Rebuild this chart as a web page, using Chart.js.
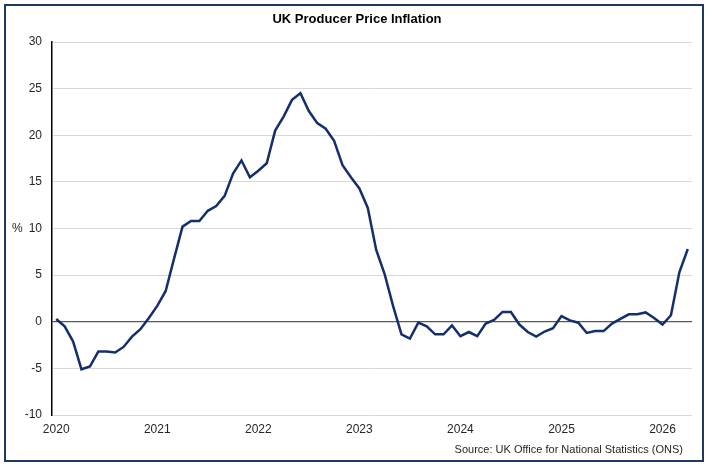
<!DOCTYPE html>
<html>
<head>
<meta charset="utf-8">
<script src="https://cdn.jsdelivr.net/npm/chart.js@4"></script>
<style>
  html, body { margin: 0; padding: 0; background: #fff; }
  #wrap { position: relative; width: 712px; height: 468px; }
</style>
</head>
<body>
<div id="wrap"><canvas id="ppi" width="712" height="468"></canvas></div>
<script>
// Années affichées sur l'axe des x (une étiquette par janvier)
const yearTicks = ['2020', '2021', '2022', '2023', '2024', '2025', '2026'];
const monthNames = ['Jan', 'Feb', 'Mar', 'Apr', 'May', 'Jun', 'Jul', 'Aug', 'Sep', 'Oct', 'Nov', 'Dec'];

// Inflation des prix à la production (%), mensuelle, janv. 2020 -> avr. 2026
const ppiValues = [
  0.3, -0.5, -2.1, -5.1, -4.8, -3.2, -3.2, -3.3, -2.7, -1.6, -0.8, 0.4,
  1.7, 3.3, 6.8, 10.2, 10.8, 10.8, 11.9, 12.4, 13.5, 15.9, 17.3, 15.5,
  16.2, 17.0, 20.5, 22.0, 23.8, 24.5, 22.6, 21.3, 20.7, 19.4, 16.8, 15.5,
  14.3, 12.2, 7.7, 5.1, 1.7, -1.35, -1.8, -0.1, -0.5, -1.35, -1.35, -0.4,
  -1.55, -1.1, -1.55, -0.2, 0.2, 1.05, 1.05, -0.3, -1.1, -1.6, -1.05, -0.7,
  0.6, 0.15, -0.1, -1.2, -1.0, -1.0, -0.2, 0.3, 0.8, 0.8, 1.0, 0.4,
  -0.3, 0.7, 5.3, 7.8
];

// Catégories : un libellé par mois
const months = ppiValues.map((v, i) => monthNames[i % 12] + ' ' + yearTicks[Math.floor(i / 12)]);

const chartTitle = 'UK Producer Price Inflation';
const sourceText = 'Source: UK Office for National Statistics (ONS)';
const yUnit = '%';

// Décor : cadre, titre, unité et source
const decorPlugin = {
  id: 'decor',
  afterDraw(chart) {
    const ctx = chart.ctx;
    ctx.save();
    ctx.strokeStyle = '#1f3864';
    ctx.lineWidth = 2;
    ctx.strokeRect(5, 5, 698, 456);

    ctx.fillStyle = '#000';
    ctx.font = 'bold 13px "Liberation Sans", Arial, sans-serif';
    ctx.textAlign = 'center';
    ctx.textBaseline = 'middle';
    ctx.fillText(chartTitle, 357, 19);

    ctx.font = '12px "Liberation Sans", Arial, sans-serif';
    ctx.fillStyle = '#262626';
    ctx.textAlign = 'left';
    ctx.fillText(yUnit, 12, chart.scales.y.getPixelForValue(10));

    ctx.font = '11px "Liberation Sans", Arial, sans-serif';
    ctx.textAlign = 'right';
    ctx.fillText(sourceText, 683, 450);
    ctx.restore();
  }
};

new Chart(document.getElementById('ppi'), {
  type: 'line',
  data: {
    labels: months,
    datasets: [{
      label: 'PPI',
      data: ppiValues,
      borderColor: '#142f6b',
      borderWidth: 2.5,
      pointRadius: 0,
      tension: 0,
      fill: false
    }]
  },
  options: {
    responsive: false,
    animation: false,
    layout: { padding: { left: 0, right: 20, top: 42, bottom: 23 } },
    plugins: {
      legend: { display: false },
      title: { display: false },
      tooltip: { enabled: false }
    },
    scales: {
      x: {
        type: 'category',
        offset: true,
        grid: { display: false, drawTicks: false },
        border: { display: false },
        ticks: {
          autoSkip: false,
          maxRotation: 0,
          padding: 7,
          color: '#262626',
          font: { family: '"Liberation Sans", Arial, sans-serif', size: 12 },
          callback: (val, idx) => (idx % 12 === 0 ? yearTicks[idx / 12] : null)
        },
        afterFit: (s) => { s.height = 30; }
      },
      y: {
        min: -10,
        max: 30,
        ticks: {
          stepSize: 5,
          padding: 10,
          color: '#262626',
          font: { family: '"Liberation Sans", Arial, sans-serif', size: 12 }
        },
        grid: {
          drawTicks: false,
          color: (c) => (c.tick && c.tick.value === 0 ? '#595959' : '#d9d9d9'),
          lineWidth: (c) => (c.tick && c.tick.value === 0 ? 1.2 : 1)
        },
        border: { display: true, color: '#000', width: 1.5 },
        afterFit: (s) => { s.width = 52; }
      }
    }
  },
  plugins: [decorPlugin]
});
</script>
</body>
</html>
